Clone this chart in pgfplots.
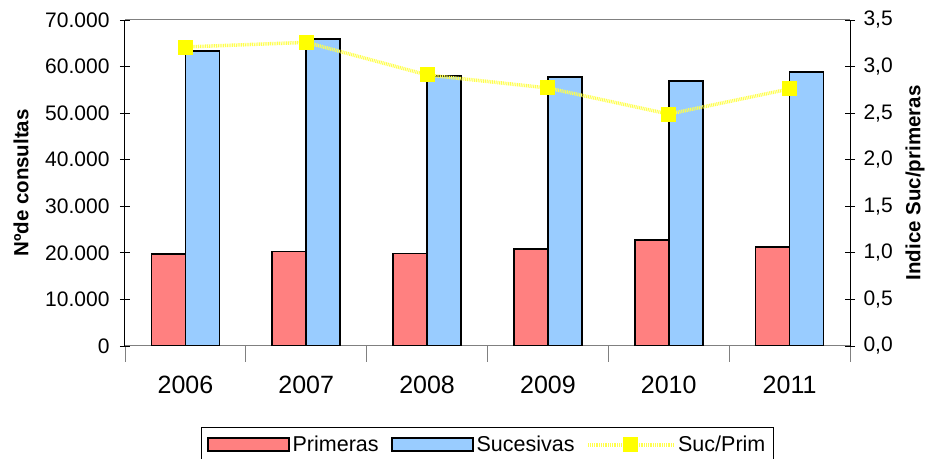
\documentclass[border=0pt]{standalone}
\usepackage{fontspec}
\setmainfont{Liberation Sans}
\usepackage{pgfplots}
\pgfplotsset{compat=1.18}
\definecolor{prim}{HTML}{FF8080}
\definecolor{suc}{HTML}{99CCFF}
\definecolor{idx}{HTML}{FFFF00}
\definecolor{frame}{HTML}{808080}

\begin{document}
\begin{tikzpicture}
\pgfplotsset{
  common/.style={
    scale only axis, width=725pt, height=326pt,
    xmin=-0.5, xmax=5.5,
    tick align=center,
    /pgf/number format/assume math mode=true,
    tick label style={font=\fontsize{21}{24}\selectfont},
    label style={font=\fontsize{20.5}{23}\selectfont\bfseries},
  },
  idxline/.style={color=idx!70!white, line width=3.5pt, dash pattern=on 1pt off 0.8pt,
    mark=square*, mark size=7pt, mark options={solid, fill=idx, draw=idx, line width=0pt}},
  idxlegend/.style={legend image code/.code={
    \draw[##1, mark=none] (0pt,0pt) -- (85pt,0pt);
    \draw[##1, draw=none] plot coordinates {(42.5pt,0pt)};}},
}
\begin{axis}[
  common, name=main,
  ymin=0, ymax=70000,
  ytick={0,10000,...,70000},
  scaled y ticks=false,
  yticklabel style={/pgf/number format/.cd, 1000 sep={.}, fixed, /tikz/.cd, xshift=-7pt},
  ybar=0pt, bar width=34pt,
  axis x line*=bottom, axis y line*=left,
  every outer x axis line/.append style={-, frame, line width=1pt},
  every outer y axis line/.append style={-, black, line width=1pt},
  major tick length=10pt,
  ytick style={black, line width=0.8pt},
  xtick={0,...,5},
  xticklabels={2006,2007,2008,2009,2010,2011},
  xticklabel style={font=\fontsize{25}{28}\selectfont, yshift=-17pt},
  every major x tick/.append style={draw=none},
  minor xtick={-0.5,0.5,...,5.5},
  minor tick length=16pt,
  every minor x tick/.append style={frame, line width=0.8pt},
  ylabel={Nºde consultas},
  ylabel style={at={(axis description cs:-0.1434,0.5)}, anchor=center},
  legend columns=3,
  legend style={at={(0.5,-0.2485)}, anchor=north, draw=black, line width=0.6pt,
    font=\fontsize{21.5}{24}\selectfont, inner xsep=5pt, inner ysep=8pt,
    nodes={inner xsep=3pt, inner ysep=1pt},
    /tikz/every even column/.append style={column sep=9pt}},
  legend image code/.code={\draw[#1, line width=2pt] (0pt,-6pt) rectangle (81pt,7pt);},
]
\addplot[fill=prim, draw=black, line width=1.6pt] coordinates
  {(0,19750) (1,20250) (2,19900) (3,20800) (4,22800) (5,21300)};
\addlegendentry{Primeras}
\addplot[fill=suc, draw=black, line width=1.6pt] coordinates
  {(0,63400) (1,65900) (2,58000) (3,57800) (4,56900) (5,58800)};
\addlegendentry{Sucesivas}
\addlegendimage{idxline, idxlegend}
\addlegendentry{Suc/Prim}
\draw[frame, line width=1pt] (rel axis cs:0,1) -- (rel axis cs:1,1);
\end{axis}

\begin{axis}[
  common,
  ymin=0, ymax=3.5,
  ytick={0,0.5,...,3.5},
  yticklabel style={/pgf/number format/.cd, fixed, fixed zerofill, precision=1, use comma, /tikz/.cd, xshift=5pt},
  axis y line*=right, axis x line=none,
  every outer y axis line/.append style={-, black, line width=1pt},
  major tick length=10pt,
  ytick style={black, line width=0.8pt},
  ylabel={Indice Suc/primeras},
  ylabel style={at={(axis description cs:1.0897,0.5)}, anchor=center},
]
\addplot[idxline] coordinates
  {(0,3.21) (1,3.26) (2,2.91) (3,2.77) (4,2.49) (5,2.76)};
\end{axis}

\pgfresetboundingbox
\path ([xshift=-125pt,yshift=-113pt]main.south west) rectangle ([xshift=75pt,yshift=20pt]main.north east);
\end{tikzpicture}
\end{document}
